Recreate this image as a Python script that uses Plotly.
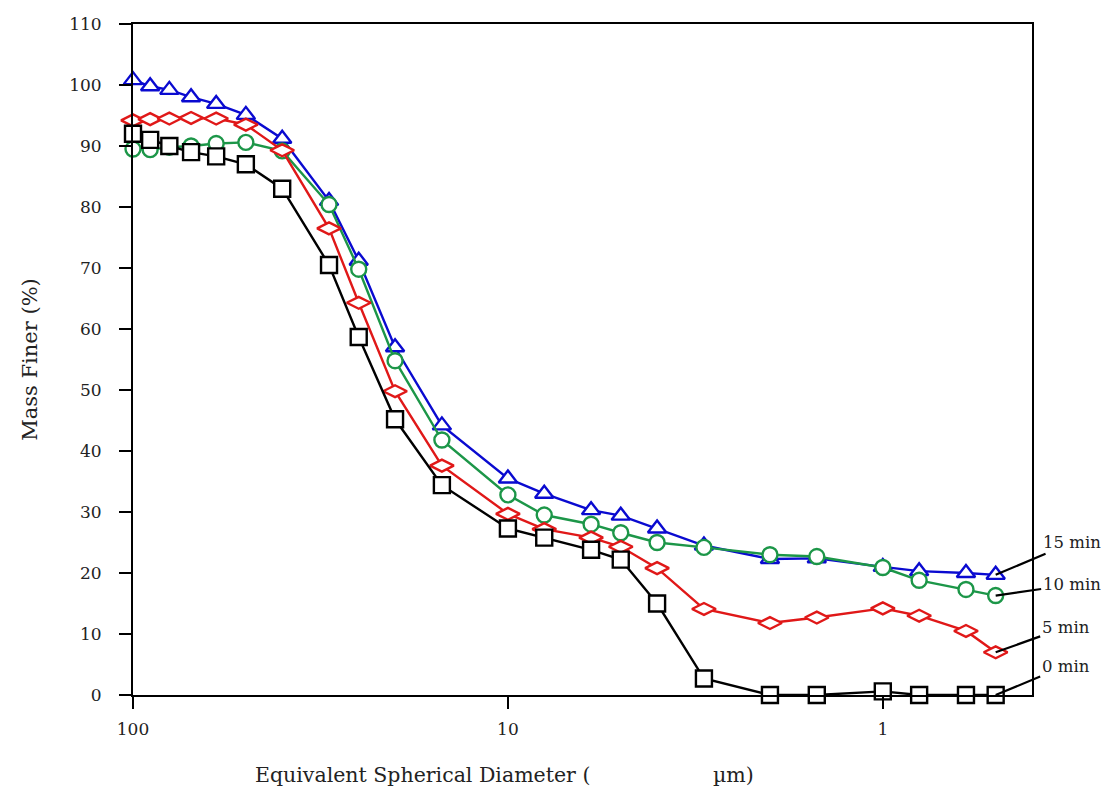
import math
import plotly.graph_objects as go

diameter = [100, 90, 80, 70, 60, 50, 40, 30, 25, 20, 15, 10, 8, 6, 5, 4, 3, 2, 1.5, 1, 0.8, 0.6, 0.5]

min15 = [100.8, 99.8, 99.2, 98.0, 96.9, 95.1, 91.2, 81.0, 71.2, 57.0, 44.2, 35.5, 33.0, 30.3, 29.4, 27.3, 24.5, 22.3, 22.4, 21.0, 20.3, 20.0, 19.7]
min10 = [89.5, 89.4, 89.8, 90.0, 90.4, 90.6, 89.2, 80.4, 69.8, 54.8, 41.8, 32.8, 29.5, 28.0, 26.6, 25.0, 24.2, 23.0, 22.7, 20.9, 18.8, 17.3, 16.3]
min5 = [94.2, 94.4, 94.5, 94.6, 94.5, 93.5, 89.3, 76.5, 64.3, 49.8, 37.6, 29.7, 27.2, 25.8, 24.3, 20.8, 14.1, 11.8, 12.7, 14.2, 13.0, 10.5, 7.0]
min0 = [92.0, 91.0, 90.0, 89.0, 88.3, 87.0, 83.0, 70.5, 58.7, 45.2, 34.4, 27.3, 25.8, 23.8, 22.2, 15.0, 2.7, 0, 0, 0.6, 0, 0, 0]

series_names = ["15 min", "10 min", "5 min", "0 min"]
series_values = [min15, min10, min5, min0]
series_colors = ["#0a0ad0", "#1c9648", "#e01818", "#000000"]
series_symbols = ["triangle-up", "circle", "diamond-wide", "square"]
series_sizes = [16, 15, 17, 16]

x_tickvals = [100, 10, 1]
x_ticktext = ["100", "10", "1"]

# label offsets (pixels) from the last point of each series
label_ax = [76, 76, 70, 70]
label_ay = [-32, -11, -25, -29]

fig = go.Figure()
for name, vals, col, sym, sz in zip(series_names, series_values, series_colors, series_symbols, series_sizes):
    fig.add_trace(go.Scatter(
        x=diameter, y=vals, name=name, mode="lines+markers",
        line=dict(color=col, width=2.4),
        marker=dict(symbol=sym, size=sz, color="white", line=dict(color=col, width=2.4)),
        cliponaxis=False, showlegend=False,
    ))

for name, vals, ax, ay in zip(series_names, series_values, label_ax, label_ay):
    fig.add_annotation(
        x=math.log10(diameter[-1]), y=vals[-1], xref="x", yref="y",
        text=name, showarrow=True, arrowhead=0, arrowwidth=2.2, arrowcolor="black",
        ax=ax, ay=ay, axref="pixel", ayref="pixel",
        font=dict(family="DejaVu Serif", size=16.5, color="#222"),
        xanchor="center", yanchor="middle",
    )

fig.add_annotation(
    xref="paper", yref="paper", x=(253 - 133) / 899, y=(695 - 775) / 671,
    text="Equivalent Spherical Diameter (", showarrow=False,
    xanchor="left", yanchor="middle",
    font=dict(family="DejaVu Serif", size=20.5, color="#222"),
)
fig.add_annotation(
    xref="paper", yref="paper", x=(711 - 133) / 899, y=(695 - 775) / 671,
    text="\u00b5m)", showarrow=False,
    xanchor="left", yanchor="middle",
    font=dict(family="DejaVu Serif", size=20.5, color="#222"),
)

fig.update_xaxes(
    type="log", range=[2, math.log10(0.4)],
    tickvals=x_tickvals, ticktext=x_ticktext,
    ticks="outside", ticklen=12, tickwidth=2, tickcolor="black",
    showline=True, linecolor="black", linewidth=2, mirror=True,
    showgrid=False, zeroline=False,
    ticklabelstandoff=6,
    tickfont=dict(family="DejaVu Serif", size=17, color="#222"),
)
fig.update_yaxes(
    range=[0, 110], dtick=10,
    ticks="outside", ticklen=12, tickwidth=2, tickcolor="black",
    showline=True, linecolor="black", linewidth=2, mirror=True,
    showgrid=False, zeroline=False,
    ticklabelstandoff=14,
    tickfont=dict(family="DejaVu Serif", size=17, color="#222"),
    title=dict(text="Mass Finer (%)", standoff=26,
               font=dict(family="DejaVu Serif", size=21, color="#222")),
)

# page body has an 8px margin, so the figure is sized to fit the 1113x791 window
fig.update_layout(
    width=1105, height=783,
    margin=dict(l=125, r=81, t=16, b=96, autoexpand=False),
    paper_bgcolor="white", plot_bgcolor="white",
)

fig.write_html("out.html")
